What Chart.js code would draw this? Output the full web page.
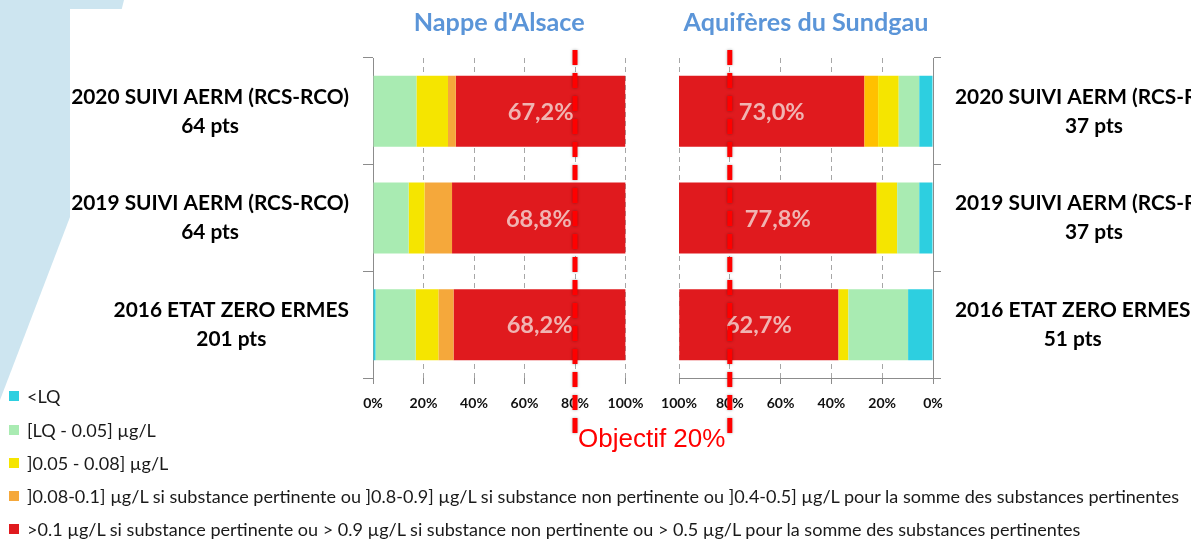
<!DOCTYPE html>
<html><head><meta charset="utf-8">
<script src="https://cdn.jsdelivr.net/npm/chart.js@4.4.1/dist/chart.umd.min.js"></script>
<style>
html,body{margin:0;padding:0;width:1191px;height:539px;overflow:hidden;background:#fff;position:relative}
#deco{position:absolute;left:0;top:0;width:130px;height:410px;background:#CDE5F0;clip-path:polygon(0 0,124px 0,70px 217px,0 400px)}
#sheet{position:absolute;left:70px;top:9px;width:1121px;height:530px;background:#fff}
canvas{position:absolute;top:0}
#c1{left:0}
#c2{left:650px}
#obj{position:absolute;left:578px;top:423px;font:26px/30px 'Liberation Sans',Arial,sans-serif;color:#FF0000;white-space:nowrap}
.lg{position:absolute;left:9px;height:20px;line-height:20px;white-space:nowrap;color:#1a1a1a;font-family:Lato,sans-serif}
.lg span.sq{position:absolute;left:0;top:5px;width:10px;height:10px}
.lg span.tx{position:absolute;left:18px;top:0}
</style></head>
<body>
<div id="deco"></div><div id="sheet"></div>
<canvas id="c1" width="660" height="440"></canvas>
<canvas id="c2" width="620" height="440"></canvas>
<div id="obj">Objectif 20%</div>
<div id="legend"></div>
<script>
// ---- data ----
const seriesNames = ['<LQ', '[LQ - 0.05] µg/L', ']0.05 - 0.08] µg/L',
  ']0.08-0.1] µg/L si substance pertinente ou ]0.8-0.9] µg/L si substance non pertinente ou ]0.4-0.5] µg/L pour la somme des substances pertinentes',
  '>0.1 µg/L si substance pertinente ou > 0.9 µg/L si substance non pertinente ou > 0.5 µg/L pour la somme des substances pertinentes'];
const alsaceCategories = [['2020 SUIVI AERM (RCS-RCO)','64 pts'],['2019 SUIVI AERM (RCS-RCO)','64 pts'],['2016 ETAT ZERO ERMES','201 pts']];
const sundgauCategories = [['2020 SUIVI AERM (RCS-RCO)','37 pts'],['2019 SUIVI AERM (RCS-RCO)','37 pts'],['2016 ETAT ZERO ERMES','51 pts']];
const alsaceLtLQ   = [0, 0, 1.0];
const alsaceLQ005  = [17.2, 14.1, 15.9];
const alsace005008 = [12.5, 6.3, 9.0];
const alsace00801  = [3.1, 10.9, 6.0];
const alsaceGt01   = [67.2, 68.8, 68.2];
const sundgauLtLQ   = [5.4, 5.4, 9.8];
const sundgauLQ005  = [8.1, 8.7, 23.5];
const sundgau005008 = [8.1, 8.1, 3.9];
const sundgau00801  = [5.4, 0, 0];
const sundgauGt01   = [73.0, 77.8, 62.7];
const xTicks = [0, 20, 40, 60, 80, 100];
const objectiveValue = 80;
const titles = ["Nappe d'Alsace", 'Aquifères du Sundgau'];

// ---- styling ----
const legendColors = ['#2DCFE0','#A9EBB2','#F5E500','#F5A83B','#E01A1E'];
const alsaceColors = ['#2DCFE0','#A9EBB2','#F5E500','#F5A83B','#E01A1E'];
const sundgauColors = ['#2DCFE0','#A9EBB2','#F5E500','#FFC000','#E01A1E'];

function fit(text, weight, family, target){
  const c = document.createElement('canvas').getContext('2d');
  c.font = weight + ' 100px ' + family;
  return 100 * target / c.measureText(text).width;
}
const catSize = fit('2020 SUIVI AERM (RCS-RCO)', 'bold', 'Lato', 278);
const titleSize = fit("Nappe d'Alsace", 'bold', 'Lato', 171);
const tickSize = fit('100%', 'bold', 'Lato', 36);
const valSize = fit('67,2%', 'bold', 'Lato', 66);
const legSize = fit(seriesNames[3], 'normal', 'Lato', 1155);

const redLabels = {
  id:'redLabels',
  afterDatasetsDraw(chart){
    const di = chart.data.datasets.length - 1;
    const meta = chart.getDatasetMeta(di);
    const ctx = chart.ctx;
    ctx.save();
    ctx.font = 'bold ' + valSize + 'px Lato';
    ctx.fillStyle = '#F0B4B2';
    ctx.textAlign = 'center'; ctx.textBaseline = 'middle';
    meta.data.forEach((bar, i) => {
      const v = chart.data.datasets[di].data[i];
      ctx.fillText(v.toFixed(1).replace('.', ',') + '%', (bar.x + bar.base) / 2, bar.y + 1);
    });
    ctx.restore();
  }
};
const catLabels = {
  id:'catLabels',
  afterDraw(chart, args, o){
    const s = chart.scales.y, ctx = chart.ctx;
    ctx.save();
    ctx.font = 'bold ' + catSize + 'px Lato';
    ctx.fillStyle = '#000';
    ctx.textAlign = 'center'; ctx.textBaseline = 'middle';
    chart.data.labels.forEach((lines, i) => {
      const y = s.getPixelForTick(i);
      const w = Math.max(...lines.map(l => ctx.measureText(l).width));
      const cx = o.side === 'left' ? o.edge - w / 2 : o.edge + w / 2;
      lines.forEach((l, j) => ctx.fillText(l, cx, y + (j - (lines.length - 1) / 2) * 29));
    });
    ctx.restore();
  }
};
const objLine = {
  id:'objLine',
  afterDraw(chart){
    const x = chart.scales.x.getPixelForValue(objectiveValue);
    const ctx = chart.ctx;
    ctx.save();
    ctx.strokeStyle = '#FF0000'; ctx.lineWidth = 5; ctx.setLineDash([15, 8]);
    ctx.shadowColor = 'rgba(0,0,0,0.35)'; ctx.shadowBlur = 3;
    ctx.beginPath(); ctx.moveTo(x, 50); ctx.lineTo(x, 433); ctx.stroke();
    ctx.restore();
  }
};

function makeChart(id, cats, series, colors, opts){
  const datasets = series.map((d, i) => ({
    label: seriesNames[i], data: d, backgroundColor: colors[i], borderWidth: 0,
    barPercentage: 0.665, categoryPercentage: 1
  }));
  return new Chart(document.getElementById(id), {
    type: 'bar',
    data: { labels: cats, datasets },
    options: {
      indexAxis: 'y', responsive: false, animation: false, devicePixelRatio: 1,
      layout: { padding: { left: opts.padL, right: opts.padR, top: 0, bottom: 0 } },
      plugins: {
        legend: { display: false }, tooltip: { enabled: false },
        title: { display: true, text: opts.title, fullSize: false, color: '#5B95D8',
          font: { family: 'Lato', weight: 'bold', size: titleSize, lineHeight: '30px' },
          padding: { top: 8, bottom: 20 } },
        catLabels: { side: opts.side, edge: opts.edge }
      },
      scales: {
        x: {
          stacked: true, min: 0, max: 100, reverse: opts.reverse,
          afterBuildTicks: s => { s.ticks = xTicks.map(v => ({ value: v })); },
          ticks: { callback: v => v + '%', color: '#111', padding: 11, maxRotation: 0,
            font: { family: 'Lato', weight: 'bold', size: tickSize, lineHeight: 1.2 } },
          grid: { color: '#A6A6A6', lineWidth: 1, tickLength: 6, tickColor: '#8C8C8C', tickBorderDash: [] },
          border: { display: opts.xBorder, color: '#8C8C8C', dash: [5, 4] },
          afterFit: s => { s.height = 62; }
        },
        y: {
          stacked: true, position: opts.side === 'left' ? 'left' : 'right',
          ticks: { display: false },
          grid: { offset: true, drawOnChartArea: false, tickLength: opts.tickLen, tickColor: '#8C8C8C', color: '#8C8C8C' },
          border: { display: true, color: '#8C8C8C' },
          afterFit: s => { s.width = opts.yWidth; }
        }
      }
    },
    plugins: [redLabels, catLabels, objLine]
  });
}

makeChart('c1', alsaceCategories, [alsaceLtLQ, alsaceLQ005, alsace005008, alsace00801, alsaceGt01], alsaceColors,
  { title: titles[0], reverse: false, side: 'left', edge: 349, padL: 0, padR: 34.5, yWidth: 373, tickLen: 10, xBorder: false });
makeChart('c2', sundgauCategories, [sundgauLtLQ, sundgauLQ005, sundgau005008, sundgau00801, sundgauGt01], sundgauColors,
  { title: titles[1], reverse: true, side: 'right', edge: 305, padL: 29, padR: 0, yWidth: 337, tickLen: 8, xBorder: true });

// legend
const legendCenters = [396, 430, 463, 496, 529];
const lg = document.getElementById('legend');
seriesNames.forEach((n, i) => {
  const row = document.createElement('div');
  row.className = 'lg';
  row.style.top = (legendCenters[i] - 10) + 'px';
  row.style.fontSize = legSize + 'px';
  const sq = document.createElement('span'); sq.className = 'sq'; sq.style.background = legendColors[i];
  const tx = document.createElement('span'); tx.className = 'tx'; tx.textContent = n;
  row.appendChild(sq); row.appendChild(tx); lg.appendChild(row);
});
</script>
</body></html>
